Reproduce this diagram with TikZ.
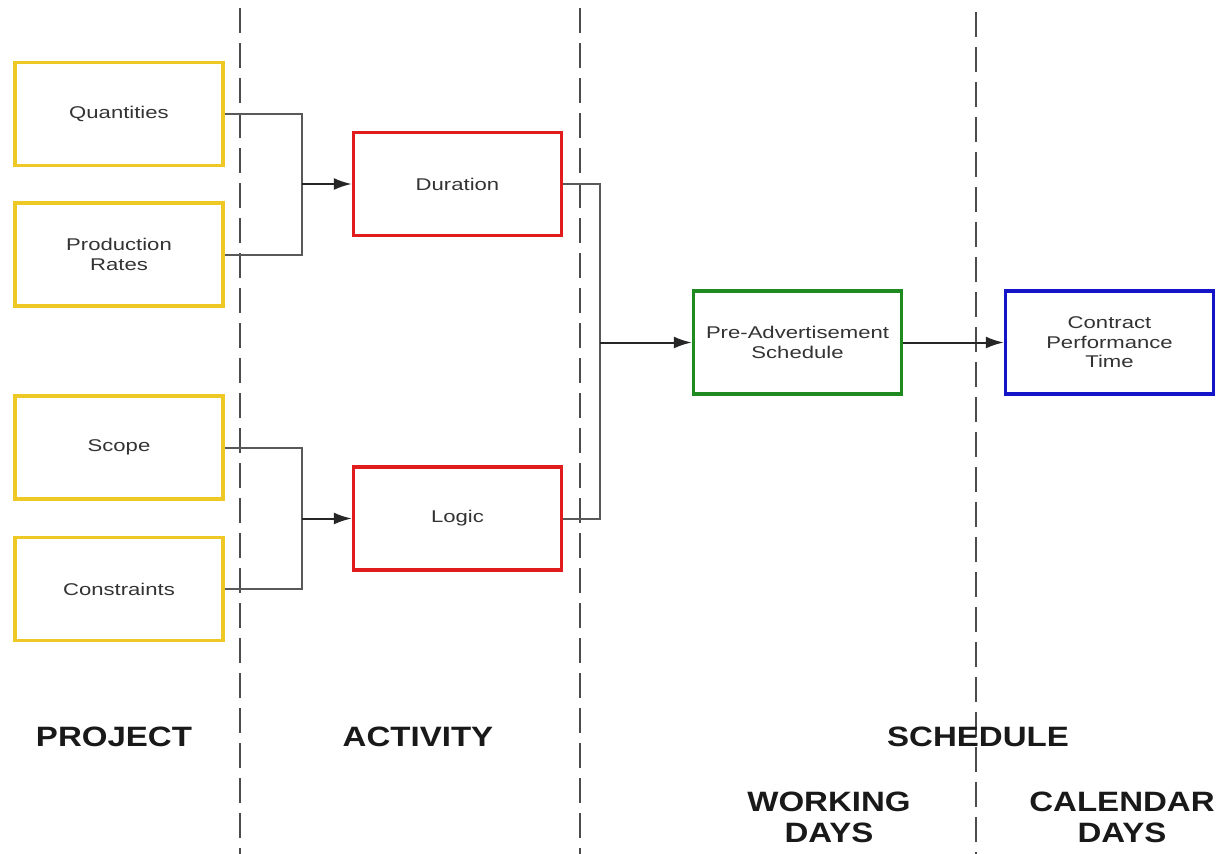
\documentclass[tikz,border=0pt]{standalone}
\usepackage{fontspec}
\setmainfont{Liberation Sans}
\usetikzlibrary{arrows.meta}
\definecolor{cyel}{HTML}{EEC825}
\definecolor{cred}{HTML}{E01C1C}
\definecolor{cgrn}{HTML}{1F8A1F}
\definecolor{cblu}{HTML}{1414C8}
\definecolor{ctxt}{HTML}{333333}
\newcommand{\boxtxt}[1]{\scalebox{1.3}[1]{#1}}
\newcommand{\headtxt}[1]{\scalebox{1.18}[1]{#1}}
\tikzset{
  box/.style={draw, line width=3.5pt, minimum width=208pt, minimum height=103pt, inner sep=0pt,
    align=center, font=\fontsize{17}{19.5}\selectfont, text=ctxt},
  ybox/.style={box, draw=cyel},
  rbox/.style={box, draw=cred},
  gbox/.style={box, draw=cgrn},
  bbox/.style={box, draw=cblu},
  conn/.style={draw=black!65, line width=2pt},
  arr/.style={conn, draw=black!85, -{Latex[length=18pt,width=12pt]}},
  divider/.style={draw=black!70, line width=2pt, dash pattern=on 25pt off 10pt},
  head/.style={font=\fontsize{28}{31}\selectfont\bfseries, text=black!90, align=center, inner sep=0pt}
}
\begin{document}
\begin{tikzpicture}[x=1pt,y=-1pt]
\useasboundingbox[fill=white] (0,0) rectangle (1232,854);
% dividers
\coordinate (d1t) at (240,8); \coordinate (d1b) at (240,854);
\coordinate (d2t) at (580,8); \coordinate (d2b) at (580,854);
\coordinate (d3t) at (976,12); \coordinate (d3b) at (976,854);
\draw[divider] (d1t) -- (d1b);
\draw[divider] (d2t) -- (d2b);
\draw[divider] (d3t) -- (d3b);
% boxes
\node[ybox] (quant) at (119,114) {\boxtxt{Quantities}};
\node[ybox] (prod) at (119,254.5) {\boxtxt{Production}\\\boxtxt{Rates}};
\node[ybox] (scope) at (119,447.5) {\boxtxt{Scope}};
\node[ybox] (cons) at (119,589) {\boxtxt{Constraints}};
\node[rbox] (dur) at (457.5,184) {\boxtxt{Duration}};
\node[rbox] (logic) at (457.5,518.5) {\boxtxt{Logic}};
\node[gbox] (pre) at (797.5,342.5) {\boxtxt{Pre-Advertisement}\\\boxtxt{Schedule}};
\node[bbox] (cpt) at (1109.5,342.5) {\boxtxt{Contract}\\\boxtxt{Performance}\\\boxtxt{Time}};
% connectors
\coordinate (j1) at (302,184);
\coordinate (j2) at (302,518.5);
\coordinate (j3) at (600,342.5);
\draw[conn] (quant.east) -| (j1) |- (prod.east);
\draw[arr] (j1) -- (dur.west);
\draw[conn] (scope.east) -| (j2) |- (cons.east);
\draw[arr] (j2) -- (logic.west);
\draw[conn] (dur.east) -| (j3) |- (logic.east);
\draw[arr] (j3) -- (pre.west);
\draw[arr] (pre.east) -- (cpt.west);
% headings
\node[head] (hproj) at (114,737) {\headtxt{PROJECT}};
\node[head] (hact) at (418,737) {\headtxt{ACTIVITY}};
\node[head] (hsch) at (978,737) {\headtxt{SCHEDULE}};
\node[head] (hwork) at (829,817) {\headtxt{WORKING}\\\headtxt{DAYS}};
\node[head] (hcal) at (1122,817) {\headtxt{CALENDAR}\\\headtxt{DAYS}};
\end{tikzpicture}
\end{document}
